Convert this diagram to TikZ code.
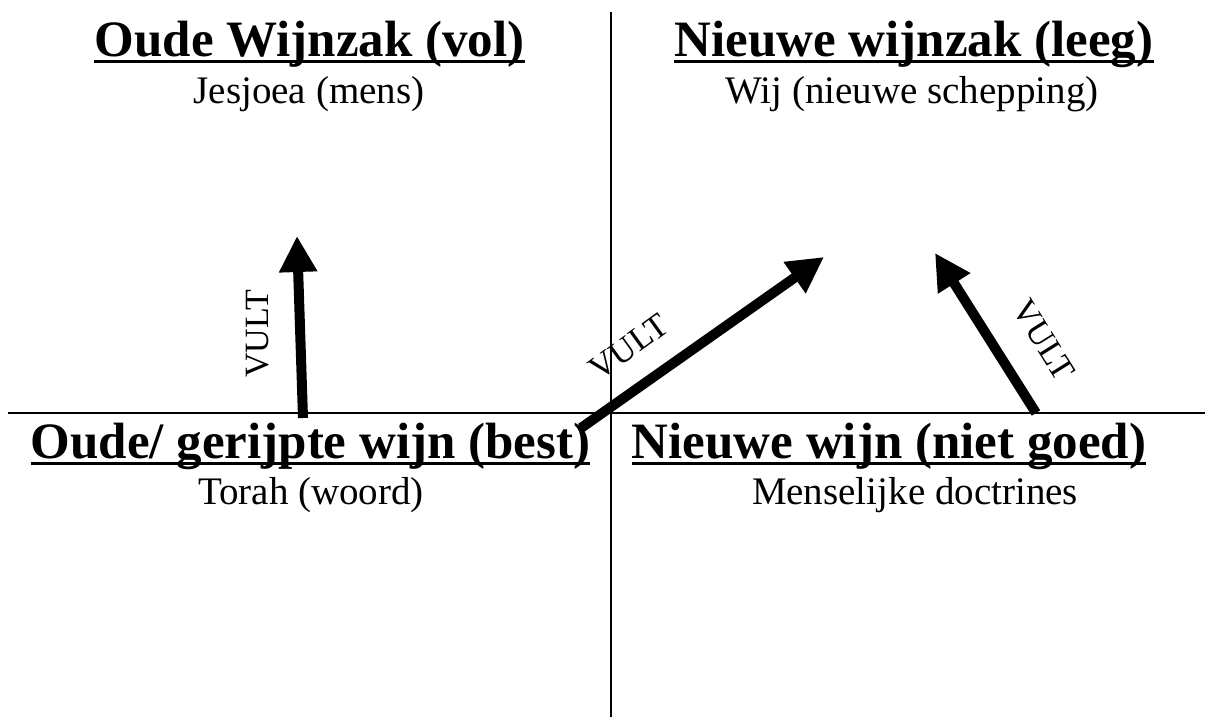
\documentclass[tikz,border=0pt]{standalone}
\usepackage{fontspec}
\setmainfont{Liberation Serif}
\usetikzlibrary{arrows.meta}
\tikzset{
  head/.style={inner sep=0pt, anchor=base, font=\fontsize{51}{51}\selectfont\bfseries},
  sub/.style={inner sep=0pt, anchor=base, font=\fontsize{39}{39}\selectfont},
  uline/.style={line width=3pt},
  divider/.style={line width=2pt},
  bigarrow/.style={line width=10pt, -{Triangle[length=36pt,width=36pt]}},
  vult/.style={inner sep=0pt, font=\fontsize{34}{34}\selectfont}
}
\begin{document}
\begin{tikzpicture}[x=1pt,y=-1pt]
\useasboundingbox (0,0) rectangle (1205,717);
% dividers
\coordinate (vtop) at (611,12);
\coordinate (vbot) at (611,717);
\coordinate (hleft) at (8,413);
\coordinate (hright) at (1205,413);
\draw[divider] (vtop) -- (vbot);
\draw[divider] (hleft) -- (hright);
% headings
\node[head] (h1) at (309.5,57) {Oude Wijnzak (vol)};
\node[sub]  (s1) at (309,103) {Jesjoea (mens)};
\node[head] (h2) at (914,57) {Nieuwe wijnzak (leeg)};
\node[sub]  (s2) at (912,103) {Wij (nieuwe schepping)};
\node[head] (h3) at (310.5,458) {Oude/ gerijpte wijn (best)};
\node[sub]  (s3) at (311,504) {Torah (woord)};
\node[head] (h4) at (889,458) {Nieuwe wijn (niet goed)};
\node[sub]  (s4) at (915,504) {Menselijke doctrines};
\foreach \n in {h1,h2,h3,h4}
  \draw[uline] ([yshift=-5pt]\n.base west) -- ([yshift=-5pt]\n.base east);
% arrows
\coordinate (a1s) at (303,418);
\coordinate (a1e) at (297,236);
\coordinate (a2s) at (581,428);
\coordinate (a2e) at (824,257);
\coordinate (a3s) at (1036,413);
\coordinate (a3e) at (935,253);
\draw[bigarrow] (a1s) -- (a1e);
\draw[bigarrow] (a2s) -- (a2e);
\draw[bigarrow] (a3s) -- (a3e);
% labels
\node[vult, rotate=90] (v1) at (258,334) {VULT};
\node[vult, rotate=36] (v2) at (629,347) {VULT};
\node[vult, rotate=-58] (v3) at (1044,340) {VULT};
\end{tikzpicture}
\end{document}
